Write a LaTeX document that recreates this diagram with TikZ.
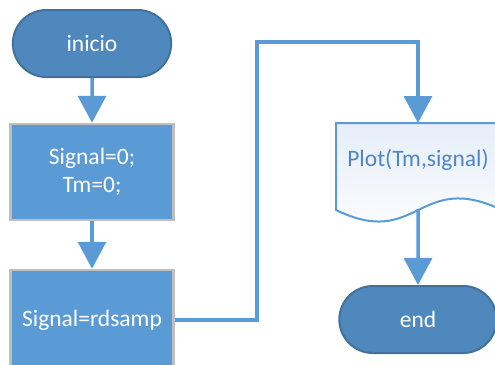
\documentclass[tikz,border=0pt]{standalone}
\usepackage{fontspec}
\setmainfont{Carlito}
\usetikzlibrary{arrows.meta,shapes.misc}
\definecolor{termfill}{HTML}{4E88BD}
\definecolor{termline}{HTML}{41719C}
\definecolor{procfill}{HTML}{5B9BD5}
\definecolor{procline}{HTML}{BFBFBF}
\definecolor{arrcol}{HTML}{5B9BD5}
\definecolor{doctext}{HTML}{4F86C6}
\definecolor{docfill}{HTML}{E6EEF8}
\tikzset{
  term/.style={rounded rectangle, draw=termline, line width=2pt, fill=termfill,
    text=white, minimum width=165pt, minimum height=67pt, font=\fontsize{23.5}{28.5}\selectfont},
  proc/.style={rectangle, draw=procline, line width=2.5pt, fill=procfill,
    text=white, minimum width=163pt, align=center, font=\fontsize{23.5}{28.5}\selectfont},
  arr/.style={draw=arrcol, line width=3.5pt, -{Triangle[width=28pt,length=27pt]}},
  docshape/.style={draw=arrcol, line width=2pt, top color=docfill, bottom color=white},
  doclabel/.style={text=doctext, font=\fontsize{23.5}{28.5}\selectfont}
}
\begin{document}
\begin{tikzpicture}[x=1pt,y=-1pt]
\useasboundingbox (0,0) rectangle (495,364);
\clip (0,0) rectangle (495,364);
% document shape
\path[docshape] (336,123) -- (502,123) -- (502,210)
  .. controls (418,170) and (418,250) .. (336,210) -- cycle;
\node[doclabel] (plot) at (418,160) {Plot(Tm,signal)};
\coordinate (doctop) at (418,123);
\coordinate (docbot) at (418,209);
% nodes
\node[term] (inicio) at (92,43.5) {inicio};
\node[proc, minimum height=96pt] (init) at (92,172) {Signal=0;\\Tm=0;};
\node[proc, minimum height=100pt] (read) at (92,320) {Signal=rdsamp};
\node[term, minimum width=164pt] (end) at (418,319.5) {end};
\coordinate (c1) at (257,42);
% connectors
\draw[arr] (inicio) -- (init);
\draw[arr] (init) -- (read);
\draw[arr] (read.east) -| (c1) -| (doctop);
\draw[arr] (docbot) -- (end);
\end{tikzpicture}
\end{document}
